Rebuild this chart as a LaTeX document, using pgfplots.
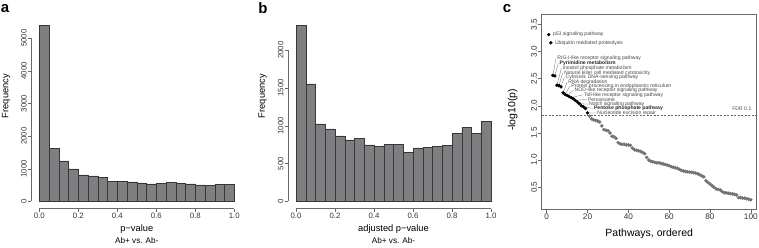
\documentclass[border=0pt]{standalone}
\usepackage{fontspec}
\setmainfont{Liberation Sans}
\usepackage{pgfplots}
\pgfplotsset{compat=1.18}
\definecolor{barfill}{RGB}{127,127,130}
\definecolor{bardraw}{RGB}{55,55,58}
\definecolor{axcol}{RGB}{105,105,105}
\definecolor{ptgray}{RGB}{115,115,115}
\definecolor{lblcol}{RGB}{70,70,70}
\pgfplotsset{
  rstyle/.style={
    scale only axis,
    clip=false,
    tick align=outside,
    tick pos=left,
    major tick length=3.5pt,
    tick style={axcol, line width=0.45pt},
    ticklabel style={font=\fontsize{7.8}{9}\selectfont, inner sep=1pt, text=black!80},
    yticklabel style={rotate=90, anchor=south},
    xticklabel style={anchor=north},
    /pgf/number format/assume math mode=true,
  },
  hstyle/.style={
    rstyle,
    axis line style={draw=none},
    width=210.6pt, height=190.5pt,
    xmin=-0.04, xmax=1.04,
    xtick={0,0.2,0.4,0.6,0.8,1.0},
    xticklabels={0.0,0.2,0.4,0.6,0.8,1.0},
  },
}
\newcommand{\labfont}{\fontsize{9.3}{11}\selectfont}
\newcommand{\subfont}{\fontsize{8.2}{10}\selectfont}
\newcommand{\pfont}{\fontsize{5.1}{5.8}\selectfont}
\begin{document}
\begin{tikzpicture}
\path[use as bounding box] (0,0) rectangle (759pt,247pt);
% ---------------- panel a
\begin{axis}[hstyle, at={(31.5pt,38.5pt)}, anchor=south west,
  ymin=-216, ymax=5616,
  ytick={0,1000,2000,3000,4000,5000},
  yticklabels={0,1000,2000,3000,4000,5000}]
\addplot[ybar interval, fill=barfill, draw=bardraw, line width=0.4pt] coordinates {
(0,5400)(0.05,1630)(0.1,1240)(0.15,1000)(0.2,815)(0.25,785)(0.3,735)(0.35,621)(0.4,621)(0.45,600)
(0.5,565)(0.55,540)(0.6,550)(0.65,595)(0.7,545)(0.75,540)(0.8,505)(0.85,495)(0.9,520)(0.95,520)(1.0,520)};
\draw[axcol, line width=0.45pt] (axis cs:0,-216) -- (axis cs:1,-216);
\draw[axcol, line width=0.45pt] (axis cs:-0.04,0) -- (axis cs:-0.04,5000);
\node[font=\labfont] at (rel axis cs:0.5,-0.108) {p−value};
\node[font=\subfont] at (rel axis cs:0.5,-0.168) {Ab+ vs. Ab-};
\node[font=\labfont, rotate=90] at (rel axis cs:-0.121,0.59) {Frequency};
\end{axis}
% ---------------- panel b
\begin{axis}[hstyle, at={(288.2pt,38.5pt)}, anchor=south west,
  ymin=-93.2, ymax=2423,
  ytick={0,500,1000,1500,2000},
  yticklabels={0,500,1000,1500,2000}]
\addplot[ybar interval, fill=barfill, draw=bardraw, line width=0.4pt] coordinates {
(0,2330)(0.05,1552)(0.1,1024)(0.15,958)(0.2,866)(0.25,813)(0.3,835)(0.35,747)(0.4,727)(0.45,757)
(0.5,754)(0.55,652)(0.6,708)(0.65,714)(0.7,730)(0.75,743)(0.8,901)(0.85,980)(0.9,897)(0.95,1055)(1.0,1055)};
\draw[axcol, line width=0.45pt] (axis cs:0,-93.2) -- (axis cs:1,-93.2);
\draw[axcol, line width=0.45pt] (axis cs:-0.04,0) -- (axis cs:-0.04,2000);
\node[font=\labfont] at (rel axis cs:0.5,-0.108) {adjusted p−value};
\node[font=\subfont] at (rel axis cs:0.5,-0.168) {Ab+ vs. Ab-};
\node[font=\labfont, rotate=90] at (rel axis cs:-0.121,0.59) {Frequency};
\end{axis}
% ---------------- panel c
\begin{axis}[rstyle, at={(541.7pt,38pt)}, anchor=south west,
  width=215pt, height=195pt,
  axis line style={axcol, line width=0.45pt},
  xmin=-2.45, xmax=102.9, ymin=0.10, ymax=3.69,
  ticklabel style={font=\fontsize{8.2}{9}\selectfont},
  xtick={0,20,40,60,80,100},
  xticklabels={0,20,40,60,80,100},
  ytick={0.5,1.0,1.5,2.0,2.5,3.0,3.5},
  yticklabels={0.5,1.0,1.5,2.0,2.5,3.0,3.5}]
\draw[axcol, dashed, line width=0.45pt, dash pattern=on 2pt off 1.5pt] (axis cs:-2.45,1.82) -- (axis cs:102.9,1.82);
\node[font=\pfont, text=lblcol, anchor=south east] at (axis cs:102,1.85) {FDR 0.1};
% leader lines
\begin{scope}[lblcol!80, line width=0.3pt]
\draw (axis cs:3,2.56) -- (axis cs:4.6,2.882);
\draw (axis cs:4,2.55) -- (axis cs:5.7,2.790);
\draw (axis cs:5,2.38) -- (axis cs:7.2,2.693);
\draw (axis cs:6,2.37) -- (axis cs:7.8,2.607);
\draw (axis cs:7,2.35) -- (axis cs:8.6,2.522);
\draw (axis cs:8,2.24) -- (axis cs:10.0,2.441);
\draw (axis cs:9,2.21) -- (axis cs:11.4,2.362);
\draw (axis cs:10,2.19) -- (axis cs:13.0,2.283);
\draw (axis cs:12,2.15) -- (axis cs:17.6,2.202);
\draw (axis cs:14,2.10) -- (axis cs:19.6,2.118);
\draw (axis cs:16,2.04) -- (axis cs:20.0,2.031);
\draw (axis cs:18,1.98) -- (axis cs:22.5,1.952);
\draw (axis cs:20,1.87) -- (axis cs:24.2,1.866);
\end{scope}
\addplot[only marks, mark=*, mark size=1.6pt, ptgray, mark options={fill=ptgray, draw=ptgray}] coordinates {
(21,1.81)(22,1.76)(23,1.74)(24,1.73)(25,1.72)(26,1.70)(27,1.63)(28,1.56)(29,1.55)(30,1.54)
(31,1.50)(32,1.44)(33,1.43)(34,1.40)(35,1.32)(36,1.30)(37,1.29)(38,1.29)(39,1.28)(40,1.28)
(41,1.27)(42,1.22)(43,1.19)(44,1.18)(45,1.17)(46,1.16)(47,1.14)(48,1.12)(49,1.05)(50,1.00)
(51,0.98)(52,0.97)(53,0.96)(54,0.95)(55,0.95)(56,0.94)(57,0.93)(58,0.92)(59,0.91)(60,0.90)
(61,0.88)(62,0.87)(63,0.86)(64,0.85)(65,0.83)(66,0.81)(67,0.80)(68,0.79)(69,0.785)(70,0.78)
(71,0.775)(72,0.77)(73,0.76)(74,0.75)(75,0.73)(76,0.71)(77,0.69)(78,0.62)(79,0.59)(80,0.56)
(81,0.53)(82,0.50)(83,0.47)(84,0.46)(85,0.45)(86,0.42)(87,0.40)(88,0.40)(89,0.39)(90,0.385)
(91,0.38)(92,0.37)(93,0.36)(94,0.31)(95,0.31)(96,0.30)(97,0.30)(98,0.29)(99,0.28)(100,0.27)};
\addplot[only marks, mark=*, mark size=1.5pt, black, mark options={fill=black, draw=black}] coordinates {
(1,3.31)(2,3.16)(3,2.56)(4,2.55)(5,2.38)(6,2.37)(7,2.35)(8,2.24)(9,2.21)(10,2.19)
(11,2.17)(12,2.15)(13,2.13)(14,2.10)(15,2.07)(16,2.04)(17,2.00)(18,1.98)(19,1.95)(20,1.87)};
\begin{scope}[every node/.style={font=\pfont, text=lblcol, anchor=west, inner sep=0.5pt}]
\node at (axis cs:2.75,3.312) {p53 signaling pathway};
\node at (axis cs:3.73,3.158) {Ubiquitin mediated proteolysis};
\node at (axis cs:4.90,2.882) {RIG-I-like receptor signaling pathway};
\node[font=\pfont\bfseries, text=black!85] at (axis cs:6.03,2.790) {Pyrimidine metabolism};
\node at (axis cs:7.50,2.693) {Inositol phosphate metabolism};
\node at (axis cs:8.14,2.607) {Natural killer cell mediated cytotoxicity};
\node at (axis cs:8.97,2.522) {Cytosolic DNA-sensing pathway};
\node at (axis cs:10.29,2.441) {RNA degradation};
\node at (axis cs:11.76,2.362) {Protein processing in endoplasmic reticulum};
\node at (axis cs:13.38,2.283) {NOD-like receptor signaling pathway};
\node at (axis cs:17.94,2.202) {Toll-like receptor signaling pathway};
\node at (axis cs:19.90,2.118) {Peroxisome};
\node at (axis cs:20.39,2.031) {Notch signaling pathway};
\node[font=\pfont\bfseries, text=black!85] at (axis cs:22.84,1.952) {Pentose phosphate pathway};
\node at (axis cs:24.51,1.866) {Nucleotide excision repair};
\end{scope}
\node[font=\fontsize{10.5}{12}\selectfont] at (rel axis cs:0.5,-0.125) {Pathways, ordered};
\node[font=\fontsize{10.5}{12}\selectfont, rotate=90] at (rel axis cs:-0.135,0.508) {-log10(p)};
\end{axis}
% panel letters
\node[font=\fontsize{15}{17}\selectfont\bfseries] at (5pt,238.5pt) {a};
\node[font=\fontsize{15}{17}\selectfont\bfseries] at (263pt,238.5pt) {b};
\node[font=\fontsize{15}{17}\selectfont\bfseries] at (507pt,238.5pt) {c};
\end{tikzpicture}
\end{document}
